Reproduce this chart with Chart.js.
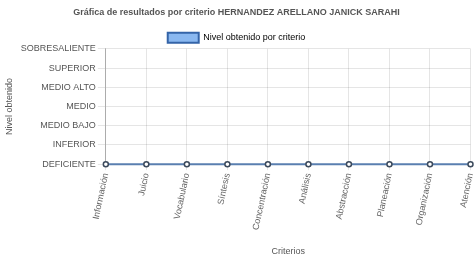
<!DOCTYPE html>
<html><head><meta charset="utf-8">
<script src="https://cdn.jsdelivr.net/npm/chart.js@4.4.1/dist/chart.umd.min.js"></script>
<style>html,body{margin:0;padding:0;background:#fff}#c{display:block}</style>
</head><body>
<canvas id="c" width="476" height="260"></canvas>
<script>
const categories = ["Información","Juicio","Vocabulario","Síntesis","Concentración","Análisis","Abstracción","Planeación","Organización","Atención"];
const levels = ["DEFICIENTE","INFERIOR","MEDIO BAJO","MEDIO","MEDIO ALTO","SUPERIOR","SOBRESALIENTE"];
const values = [0,0,0,0,0,0,0,0,0,0];
const seriesName = "Nivel obtenido por criterio";
const titleText = "Gráfica de resultados por criterio HERNANDEZ ARELLANO JANICK SARAHI";

Chart.defaults.font.family = "'Liberation Sans', Arial, sans-serif";
Chart.defaults.font.size = 9;
Chart.defaults.color = "#666";

new Chart(document.getElementById('c'), {
  type: 'line',
  data: {
    labels: categories,
    datasets: [{
      label: seriesName,
      data: values,
      borderColor: '#5a7fb0',
      backgroundColor: '#8ab8f0',
      borderWidth: 2,
      pointBackgroundColor: '#ffffff',
      pointBorderColor: '#3c4a5c',
      pointBorderWidth: 1.5,
      pointRadius: 2.5,
      fill: false,
      tension: 0,
      clip: 6
    }]
  },
  options: {
    responsive: false,
    animation: false,
    layout: { padding: { left: 0, right: 3, top: 0, bottom: 3 } },
    plugins: {
      title: { display: true, text: titleText, font: { size: 9, weight: 'bold' }, color: '#555', padding: { top: 7, bottom: 6 } },
      legend: {
        display: true,
        maxHeight: 25,
        labels: {
          boxWidth: 31, boxHeight: 10, padding: 9, font: { size: 9 }, color: '#555',
          generateLabels: (chart) => [{ text: seriesName, fillStyle: '#8ab8f0', strokeStyle: '#3464a8', lineWidth: 2, hidden: false, datasetIndex: 0 }]
        }
      },
      tooltip: { enabled: false }
    },
    scales: {
      x: {
        offset: false,
        afterFit: (s) => { s.paddingRight = 0; },
        grid: { color: 'rgba(0,0,0,0.1)', tickLength: 6, drawTicks: true },
        border: { color: 'rgba(0,0,0,0.25)' },
        ticks: { minRotation: 78, maxRotation: 78, autoSkip: false, padding: 2, color: '#666' },
        title: { display: true, text: 'Criterios', font: { size: 9 }, color: '#555', padding: { top: 13, bottom: 0 } }
      },
      y: {
        min: 0, max: 6,
        grid: { color: 'rgba(0,0,0,0.1)', tickLength: 8 },
        border: { color: 'rgba(0,0,0,0.25)' },
        ticks: { stepSize: 1, padding: 2, color: '#555', callback: (v) => levels[v] },
        title: { display: true, text: 'Nivel obtenido', font: { size: 9 }, color: '#555', padding: { bottom: 4 } }
      }
    }
  }
});
</script>
</body></html>
